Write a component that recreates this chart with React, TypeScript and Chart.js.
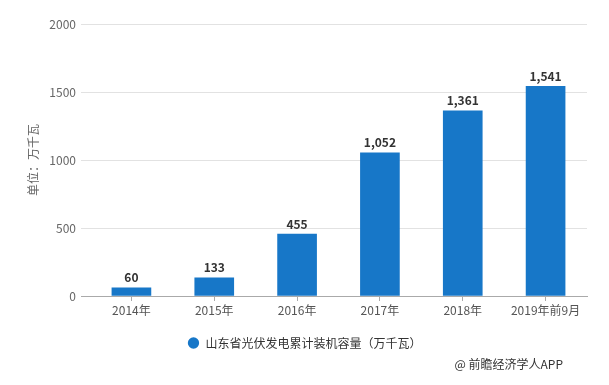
import React, { useEffect, useRef } from "react";
import { Chart, registerables } from "chart.js";

Chart.register(...registerables);

const categories = ["2014年", "2015年", "2016年", "2017年", "2018年", "2019年前9月"];
const capacity = [60, 133, 455, 1052, 1361, 1541];
const yTickValues = [0, 500, 1000, 1500, 2000];
const seriesName = "山东省光伏发电累计装机容量（万千瓦）";
const yTitle = "单位：万千瓦";
const sourceNote = "@ 前瞻经济学人APP";

const FONT = '"Microsoft YaHei","Noto Sans CJK SC","Noto Sans",sans-serif';
const BAR_COLOR = "#1777c8";

const valueLabels = {
  id: "valueLabels",
  afterDatasetsDraw(chart: any) {
    const ctx = chart.ctx;
    const meta = chart.getDatasetMeta(0);
    const data = chart.data.datasets[0].data as number[];
    ctx.save();
    ctx.font = `bold 12px ${FONT}`;
    ctx.fillStyle = "#333333";
    ctx.textAlign = "center";
    ctx.textBaseline = "bottom";
    meta.data.forEach((bar: any, i: number) => {
      ctx.fillText(data[i].toLocaleString("en-US"), bar.x, bar.y - 4);
    });
    ctx.restore();
  },
};

const sourcePlugin = {
  id: "sourceNote",
  afterDraw(chart: any) {
    const ctx = chart.ctx;
    ctx.save();
    ctx.font = `12px ${FONT}`;
    ctx.fillStyle = "#333333";
    ctx.textAlign = "right";
    ctx.textBaseline = "middle";
    ctx.fillText(sourceNote, 563, 364);
    ctx.restore();
  },
};

export default function App() {
  const canvasRef = useRef<HTMLCanvasElement | null>(null);

  useEffect(() => {
    if (!canvasRef.current) return;
    const chart = new Chart(canvasRef.current, {
      type: "bar",
      data: {
        labels: categories,
        datasets: [
          {
            label: seriesName,
            data: capacity,
            backgroundColor: BAR_COLOR,
            borderWidth: 0,
            barThickness: 39,
          },
        ],
      },
      options: {
        responsive: false,
        animation: false,
        layout: { padding: { top: 24, bottom: 26, left: 0, right: 0 } },
        plugins: {
          tooltip: { enabled: false },
          legend: {
            position: "bottom",
            labels: {
              usePointStyle: true,
              pointStyle: "circle",
              boxWidth: 12,
              boxHeight: 8,
              color: "#333333",
              font: { size: 12, family: FONT },
              padding: 10,
            },
          },
        },
        scales: {
          x: {
            grid: {
              offset: false,
              drawOnChartArea: false,
              drawTicks: true,
              tickLength: 5,
              color: "#aaaaaa",
            },
            border: { display: true, color: "#aaaaaa" },
            ticks: { color: "#555555", font: { size: 12, family: FONT }, padding: 2, maxRotation: 0 },
            afterFit(s: any) {
              s.height = 31;
            },
          },
          y: {
            min: 0,
            max: 2000,
            afterBuildTicks(s: any) {
              s.ticks = yTickValues.map((v) => ({ value: v }));
            },
            ticks: {
              color: "#666666",
              font: { size: 12, family: FONT },
              padding: 5,
              callback: (v: any) => String(v),
            },
            grid: {
              color: (c: any) => (c.tick && c.tick.value === 0 ? "#aaaaaa" : "#e2e2e2"),
              drawTicks: true,
              tickLength: 9,
            },
            border: { display: false },
            title: {
              display: true,
              text: yTitle,
              color: "#666666",
              font: { size: 12, family: FONT },
              padding: { top: 26, bottom: 0 },
            },
            afterFit(s: any) {
              s.width = 90;
            },
          },
          yRight: {
            type: "linear",
            position: "right",
            display: true,
            grid: { display: false, drawTicks: false },
            border: { display: false },
            ticks: { display: false },
            afterFit(s: any) {
              s.width = 22;
            },
          },
        },
      } as any,
      plugins: [valueLabels, sourcePlugin],
    });
    return () => chart.destroy();
  }, []);

  return (
    <div style={{ position: "fixed", left: 0, top: 0, width: 609, height: 385, background: "#fff" }}>
      <canvas ref={canvasRef} width={609} height={385} style={{ width: 609, height: 385 }} />
    </div>
  );
}
